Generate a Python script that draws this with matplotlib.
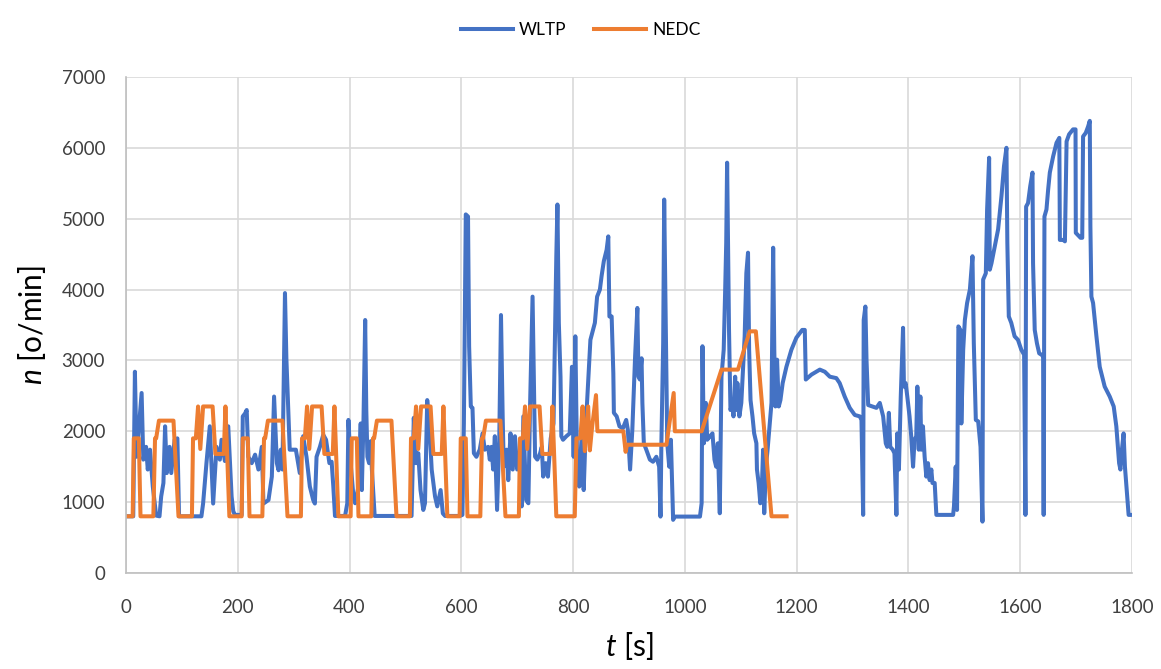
import matplotlib
matplotlib.use("Agg")
import matplotlib.pyplot as plt

plt.rcParams['font.family'] = ['Lato', 'DejaVu Sans']
plt.rcParams['mathtext.fontset'] = 'custom'
plt.rcParams['mathtext.rm'] = 'Lato'
plt.rcParams['mathtext.it'] = 'Lato:italic'

# WLTP engine speed, time [s] / speed [o/min]
wltp_t = [0, 13, 16, 19, 28, 31, 36, 39, 43, 48, 54, 60, 63, 67, 70, 73, 78, 81, 87, 92,
          95, 135, 138, 144, 150, 156, 162, 168, 171, 177, 183, 189, 192, 195, 207, 209,
          213, 216, 219, 225, 231, 237, 243, 246, 255, 261, 265, 270, 273, 277, 280,
          284.5, 287, 290, 293, 304, 308, 311, 317, 323, 329, 335, 338, 341, 347, 353,
          358, 364, 368, 371, 374, 392, 396, 398, 402, 407, 410, 416, 420, 422, 425, 428,
          430, 432, 435, 438, 440, 445, 511, 515, 519, 523, 527, 532, 535, 539, 543, 547,
          553, 557, 563, 567, 571, 597, 602, 604.6, 608, 612, 614, 617, 620, 622.5, 627,
          633, 638, 642, 648, 651, 654, 657, 660, 664, 668, 671, 674, 676, 681, 684, 688,
          692, 696, 700, 705, 708, 711, 716, 720, 723, 727.5, 730, 732, 736, 741, 744,
          746.5, 751, 755, 760, 765, 767, 770, 772, 774.5, 777.5, 779, 782, 788, 794, 798,
          801, 804, 807, 811, 815, 819, 823, 831, 839, 843, 848, 851, 855, 860, 863, 865,
          869, 872, 873, 878, 883, 889, 895, 898, 902, 906, 911, 915, 917, 919.5, 922.5,
          924, 926.6, 931, 937.4, 943, 949, 954, 956.4, 958, 961.2, 963, 966, 968.5, 972,
          975, 979, 982, 1027, 1030, 1031.5, 1034, 1037.5, 1040, 1045, 1049.4, 1053, 1056,
          1059, 1062.5, 1065.5, 1069.5, 1072, 1074, 1075.6, 1077.4, 1079, 1081.6, 1085,
          1087, 1090, 1092, 1094, 1097.5, 1101, 1107, 1110, 1113, 1115, 1117.5, 1121, 1124,
          1128, 1129, 1132, 1135, 1138, 1140, 1142, 1145, 1148, 1155, 1158, 1160, 1162,
          1165, 1168, 1171, 1175, 1181.7, 1190.6, 1199.5, 1210, 1214.6, 1216.4, 1226.6,
          1241.5, 1250.4, 1259.4, 1271, 1277, 1286, 1295, 1304, 1313, 1316, 1319, 1320,
          1323, 1325, 1328, 1335.6, 1342.8, 1348.8, 1354.8, 1359.5, 1362, 1365, 1367.5,
          1372, 1375, 1378.5, 1380, 1383, 1386.3, 1390.4, 1392, 1395, 1398, 1402, 1405,
          1408.3, 1411, 1414, 1416, 1418.5, 1421.4, 1423, 1426, 1429, 1432, 1435, 1438,
          1441, 1443, 1447, 1450, 1480, 1481.5, 1484.6, 1487, 1489.4, 1493, 1494.7, 1498,
          1501, 1505, 1510, 1514.6, 1517, 1519, 1520.6, 1524.8, 1529, 1532.5, 1533.7,
          1538.5, 1540.8, 1544.4, 1545.6, 1548.6, 1554.5, 1560.5, 1566.5, 1571, 1575.4,
          1577, 1579.6, 1584, 1590, 1596, 1602, 1607, 1609.4, 1610.6, 1614, 1618, 1622,
          1623, 1626, 1630, 1634, 1638, 1641, 1642, 1643.4, 1647, 1650, 1653, 1659, 1665,
          1670, 1671, 1677, 1680, 1683, 1687.5, 1694.6, 1699, 1699.5, 1708, 1711, 1712.5,
          1717.3, 1721.5, 1724.5, 1725.6, 1727.4, 1730.4, 1736.4, 1742.3, 1751.2, 1760.2,
          1767.3, 1772, 1777, 1779.3, 1782, 1785, 1787.4, 1791, 1794, 1800]
wltp_n = [800, 800, 2840, 1640, 2540, 1600, 1780, 1460, 1740, 1220, 810, 800, 1080, 1270,
          2070, 1410, 1780, 1410, 1880, 1900, 800, 800, 980, 1550, 2070, 980, 1780, 1600,
          1880, 1580, 2070, 1080, 870, 820, 820, 2210, 2250, 2300, 1640, 1550, 1670, 1460,
          1780, 980, 1030, 1360, 2490, 1550, 1450, 1740, 1460, 3950, 3030, 2400, 1740,
          1740, 1550, 1410, 1930, 1640, 1220, 1030, 980, 1640, 1780, 1950, 1880, 1550,
          1570, 1220, 805, 805, 984, 2160, 1550, 1080, 984, 1220, 2110, 1170, 2160, 3570,
          2300, 1640, 1550, 1860, 1460, 805, 805, 2190, 1550, 1690, 1170, 890, 984, 2440,
          2070, 1460, 1080, 940, 1170, 840, 805, 805, 820, 2110, 5060, 5030, 3200, 2350,
          2330, 1690, 1640, 1740, 1970, 1740, 1780, 1600, 1780, 1460, 1930, 890, 1930,
          3640, 2210, 1500, 1740, 1310, 1970, 1460, 1930, 1460, 1550, 940, 2210, 1030, 984,
          2350, 3900, 2590, 1640, 1600, 1690, 1780, 1360, 1550, 1360, 1900, 2110, 3060,
          4470, 5200, 3530, 2770, 1930, 1880, 1930, 1970, 2910, 1640, 3340, 1640, 1220,
          1900, 1170, 2110, 3290, 3530, 3900, 4000, 4190, 4400, 4560, 4750, 3620, 3620,
          2820, 2260, 2210, 2070, 2040, 2160, 2020, 1460, 2020, 3060, 3740, 2770, 2730,
          3030, 2400, 1830, 1740, 1600, 1570, 1640, 1500, 796, 1830, 3240, 5270, 3390,
          1830, 1500, 1880, 750, 796, 796, 984, 3200, 1830, 2400, 1880, 1930, 1970, 1600,
          1500, 1830, 843, 2770, 3150, 3950, 4660, 5790, 4470, 3430, 2300, 2400, 2210,
          2770, 2300, 2680, 2210, 2400, 3340, 4230, 4520, 3150, 2440, 2210, 1970, 1830,
          1460, 1270, 984, 1270, 1740, 843, 1500, 1740, 2400, 4590, 3150, 2350, 3010, 2350,
          2440, 2680, 2910, 3150, 3320, 3430, 3430, 2730, 2800, 2870, 2840, 2770, 2750,
          2680, 2490, 2330, 2230, 2210, 2160, 820, 3570, 3760, 3010, 2370, 2350, 2330,
          2400, 2210, 1830, 1780, 2260, 1780, 1740, 1690, 820, 1970, 1460, 2490, 3460,
          2630, 2680, 2490, 2210, 1930, 1500, 1880, 1930, 2630, 1740, 2490, 1740, 2070,
          1640, 1360, 1550, 1310, 1460, 1270, 1270, 820, 820, 940, 1500, 890, 3480, 3430,
          2110, 3150, 3570, 3810, 4000, 4470, 3240, 2630, 2160, 2140, 1780, 725, 4140,
          4230, 5130, 5860, 4280, 4370, 4610, 4850, 5320, 5740, 6000, 4660, 3620, 3530,
          3340, 3290, 3150, 3080, 820, 5170, 5220, 5460, 5650, 4370, 3430, 3240, 3100,
          3080, 3060, 820, 5030, 5130, 5410, 5650, 5880, 6070, 6140, 4700, 4700, 4680,
          6090, 6190, 6260, 6260, 4800, 4730, 4730, 6160, 6210, 6300, 6380, 4890, 3900,
          3810, 3340, 2910, 2630, 2490, 2350, 2070, 1550, 1460, 1740, 1970, 1500, 1130,
          820, 820]

# NEDC engine speed: 4x ECE + EUDC
nedc_t = [0, 12, 14, 23, 26, 49, 52, 54, 59, 85, 94, 118, 120, 125, 129, 133, 138, 155, 160, 175, 178, 185,
          195, 207, 209, 218, 221, 244, 247, 249, 254, 280, 289, 313, 315, 320, 324, 328, 333, 350, 355, 370, 373, 380,
          390, 402, 404, 413, 416, 439, 442, 444, 449, 475, 484, 508, 510, 515, 519, 523, 528, 545, 550, 565, 568, 575,
          585, 597, 599, 608, 611, 634, 637, 639, 644, 670, 679, 703, 705, 710, 714, 718, 723, 740, 745, 760, 763, 770,
          780, 803, 806, 813, 817, 821, 827, 830, 834, 841, 843.5, 890, 894, 896.5, 967, 980, 982, 1030,
          1065.5, 1095, 1116, 1127, 1155, 1182]
nedc_n = [800, 800, 1900, 1900, 800, 800, 1900, 1900, 2150, 2150, 800, 800, 1900, 1900, 2350, 1750, 2350, 2350, 1680, 1680, 2350, 800,
          800, 800, 1900, 1900, 800, 800, 1900, 1900, 2150, 2150, 800, 800, 1900, 1900, 2350, 1750, 2350, 2350, 1680, 1680, 2350, 800,
          800, 800, 1900, 1900, 800, 800, 1900, 1900, 2150, 2150, 800, 800, 1900, 1900, 2350, 1750, 2350, 2350, 1680, 1680, 2350, 800,
          800, 800, 1900, 1900, 800, 800, 1900, 1900, 2150, 2150, 800, 800, 1900, 1900, 2350, 1750, 2350, 2350, 1680, 1680, 2350, 800,
          800, 800, 1900, 1900, 2350, 1720, 2350, 1730, 2060, 2510, 2000, 2000, 1710, 1810, 1810, 2540, 2000, 2000,
          2870, 2870, 3410, 3410, 800, 800]

fig = plt.figure(figsize=(11.61, 6.69), dpi=100)
ax = fig.add_axes([0.1085, 0.1435, 0.8665, 0.7415])

ax.plot(wltp_t, wltp_n, color='#4472C4', lw=2.9, label='WLTP', solid_joinstyle='round')
ax.plot(nedc_t, nedc_n, color='#ED7D31', lw=2.9, label='NEDC', solid_joinstyle='round')

ax.set_xlim(0, 1800)
ax.set_ylim(0, 7000)
ax.set_xticks(range(0, 1801, 200))
ax.set_yticks(range(0, 7001, 1000))
ax.grid(True, color='#D9D9D9', lw=1.2)
ax.set_axisbelow(True)
for s in ['top', 'right']:
    ax.spines[s].set_visible(False)
for s in ['left', 'bottom']:
    ax.spines[s].set_color('#BFBFBF')
    ax.spines[s].set_linewidth(1.2)
ax.tick_params(length=0, labelsize=13.5, labelcolor='#404040')
ax.tick_params(axis='x', pad=19)
ax.tick_params(axis='y', pad=15)

ax.set_xlabel(r'$t$ [s]', fontsize=21.5, labelpad=10)
ax.set_ylabel(r'$n$ [o/min]', fontsize=21.5, labelpad=10)

fig.legend(loc='upper center', bbox_to_anchor=(0.5, 0.99), ncol=2, frameon=False,
           fontsize=12.5, handlelength=3.0, columnspacing=1.6, handletextpad=0.35)

fig.savefig('out.png', dpi=100)
